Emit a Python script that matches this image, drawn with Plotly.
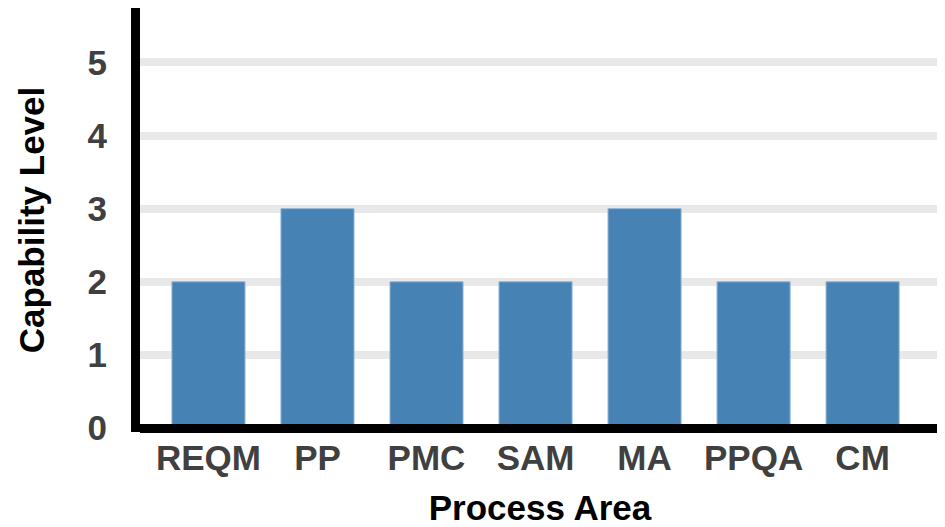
import plotly.graph_objects as go

categories = ["REQM", "PP", "PMC", "SAM", "MA", "PPQA", "CM"]
capability_levels = [2, 3, 2, 2, 3, 2, 2]
y_tick_values = [0, 1, 2, 3, 4, 5]
y_tick_labels = ["0", "1", "2", "3", "4", "5"]

fig = go.Figure(
    go.Bar(
        x=categories,
        y=capability_levels,
        marker=dict(color="#4682B4", line=dict(color="#8db3d6", width=1)),
        width=0.67,
    )
)

# page body has an 8px default margin, so the figure is 8px smaller
fig.update_layout(
    width=937,
    height=519,
    margin=dict(l=132, r=5, t=0, b=95, autoexpand=False),
    paper_bgcolor="white",
    plot_bgcolor="white",
    showlegend=False,
    font=dict(family="Liberation Sans, Arial, sans-serif", size=35, color="#404040"),
)

fig.update_xaxes(
    type="category",
    range=[-0.628, 6.71],
    showline=False,
    showgrid=False,
    ticks="",
    ticklabelstandoff=2,
    tickfont=dict(size=35, color="#404040", weight="bold"),
    title=dict(
        text="<b>Process Area</b>",
        font=dict(size=35, color="black"),
        standoff=29,
    ),
    automargin=False,
)

fig.update_yaxes(
    range=[-0.0547, 5.745],
    tickvals=y_tick_values,
    ticktext=y_tick_labels,
    showline=True,
    linecolor="black",
    linewidth=9,
    showgrid=True,
    gridcolor="#e8e8e8",
    gridwidth=8,
    zeroline=True,
    zerolinecolor="black",
    zerolinewidth=9,
    ticks="",
    ticklabelstandoff=17,
    tickfont=dict(size=35, color="#404040", weight="bold"),
    title=dict(
        text="<b>Capability Level</b>",
        font=dict(size=35, color="black"),
        standoff=36,
    ),
    automargin=False,
)
try:
    fig.update_yaxes(zerolinelayer="above traces")
except Exception:
    pass

fig.write_html("out.html")
